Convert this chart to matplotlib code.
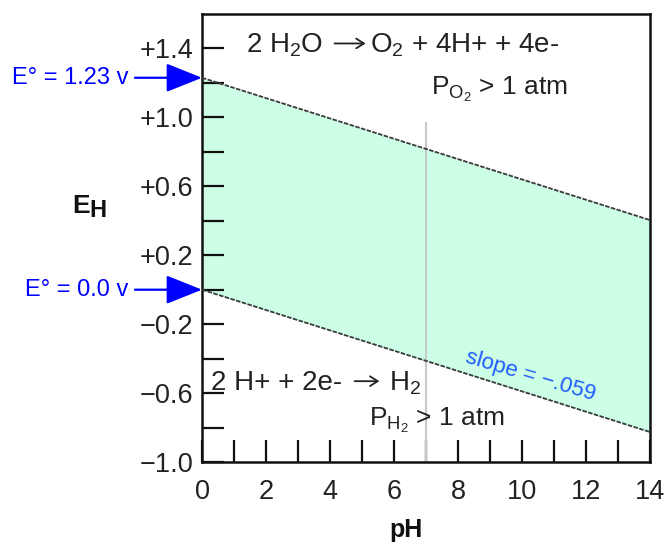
import matplotlib
matplotlib.use("Agg")
import matplotlib.pyplot as plt
import numpy as np

plt.rcParams['font.family'] = ['Liberation Sans', 'DejaVu Sans']
plt.rcParams['mathtext.fontset'] = 'custom'
plt.rcParams['mathtext.rm'] = 'Liberation Sans'
plt.rcParams['mathtext.it'] = 'Liberation Sans'
plt.rcParams['mathtext.bf'] = 'Liberation Sans:bold'

# Stability field of water: E_H = E0 + slope * pH
pH_range = [0, 14]
E0_O2 = 1.23        # O2 / H2O couple, volts
E0_H2 = 0.0         # H+ / H2 couple, volts
slope = -0.059      # volts per pH unit

y_ticks = [-1.0, -0.8, -0.6, -0.4, -0.2, 0.0, 0.2, 0.4, 0.6, 0.8, 1.0, 1.2, 1.4]
y_tick_labels = ['\u22121.0', '', '\u22120.6', '', '\u22120.2', '', '+0.2', '',
                 '+0.6', '', '+1.0', '', '+1.4']
x_ticks = list(range(0, 15))
x_tick_labels = [str(v) if v % 2 == 0 else '' for v in x_ticks]

pH = np.array(pH_range, dtype=float)
E_upper = E0_O2 + slope * pH
E_lower = E0_H2 + slope * pH

fig = plt.figure(figsize=(6.65, 5.45), dpi=100)
ax = fig.add_axes([202 / 665, 1 - 462 / 545, 448 / 665, 448 / 545])

ax.fill_between(pH, E_lower, E_upper, color='#ccffe6', lw=0, zorder=1)
ax.plot([7, 7], [-1.0, 0.965], color='#c8c8c8', lw=1.5, zorder=2)
line_kw = dict(color='#3a3a3a', lw=1.3, dashes=(2.5, 0.8), zorder=3)
ax.plot(pH, E_upper, **line_kw)
ax.plot(pH, E_lower, **line_kw)

ax.set_xlim(0, 14)
ax.set_ylim(-1.0, 1.6)
ax.set_xticks(x_ticks)
ax.set_xticklabels(x_tick_labels)
ax.set_yticks(y_ticks)
ax.set_yticklabels(y_tick_labels)
ax.tick_params(axis='both', direction='in', length=16, width=1.6,
               labelsize=19.5, color='#111111', labelcolor='#222222')
ax.tick_params(axis='x', pad=12)
ax.tick_params(axis='y', pad=6)
for s in ax.spines.values():
    s.set_linewidth(1.8)
    s.set_color('#111111')

txt = dict(fontsize=20, color='#222222', va='baseline', ha='left', zorder=4)
ptxt = dict(txt, fontsize=19)
arrow_raise = 0.052   # reaction arrow sits this far above the text baseline


def reaction(x, y, left, right, gap, shrink_a, shrink_b):
    """Write 'left -> right' on one baseline with a thin reaction arrow."""
    t1 = ax.text(x, y, left, **txt)
    t2 = ax.annotate(right, xy=(1, y), xycoords=(t1, 'data'),
                     xytext=(gap, 0), textcoords='offset pixels', **txt)
    ax.annotate('', xy=(0, y + arrow_raise), xycoords=(t2, 'data'),
                xytext=(1, y + arrow_raise), textcoords=(t1, 'data'),
                arrowprops=dict(arrowstyle='->,head_length=0.55,head_width=0.35',
                                mutation_scale=10, lw=1.3, color='#222222',
                                shrinkA=shrink_a, shrinkB=shrink_b))


reaction(1.38, 1.377, '2 H$_2$O', 'O$_2$ + 4H+ + 4e-', 47, 8, 3.5)
ax.text(7.15, 1.128, 'P$_{O_2}$ > 1 atm', **ptxt)
reaction(0.28, -0.583, '2 H+ + 2e-', 'H$_2$', 47, 9, 7)
ax.text(5.22, -0.791, 'P$_{H_2}$ > 1 atm', **ptxt)

ax.text(10.25, -0.50, 'slope = \u2212.059', color='#1f5cff', fontsize=16,
        rotation=-16.5, rotation_mode='anchor', ha='center', va='center', zorder=4)

arrow_kw = dict(arrowstyle='-|>,head_length=1.5,head_width=0.6', color='#0000ff',
                lw=1.6, shrinkA=3, shrinkB=0, mutation_scale=15)
ax.annotate('E\u00b0 = 1.23 v', xy=(0, E0_O2), xytext=(-74, 0),
            textcoords='offset pixels', ha='right', va='center', color='#0000ff',
            fontsize=17, arrowprops=arrow_kw, annotation_clip=False)
ax.annotate('E\u00b0 = 0.0 v', xy=(0, E0_H2), xytext=(-74, 0),
            textcoords='offset pixels', ha='right', va='center', color='#0000ff',
            fontsize=17, arrowprops=arrow_kw, annotation_clip=False)

fig.text(72 / 665, 1 - 213 / 545, 'E', fontsize=19, fontweight='bold',
         color='#111111', va='baseline', ha='left')
fig.text(89 / 665, 1 - 217 / 545, 'H', fontsize=17, fontweight='bold',
         color='#111111', va='baseline', ha='left')
fig.text(406 / 665, 1 - 537 / 545, 'pH', fontsize=18, fontweight='bold',
         color='#111111', va='baseline', ha='center')

fig.savefig('out.png', dpi=100)
